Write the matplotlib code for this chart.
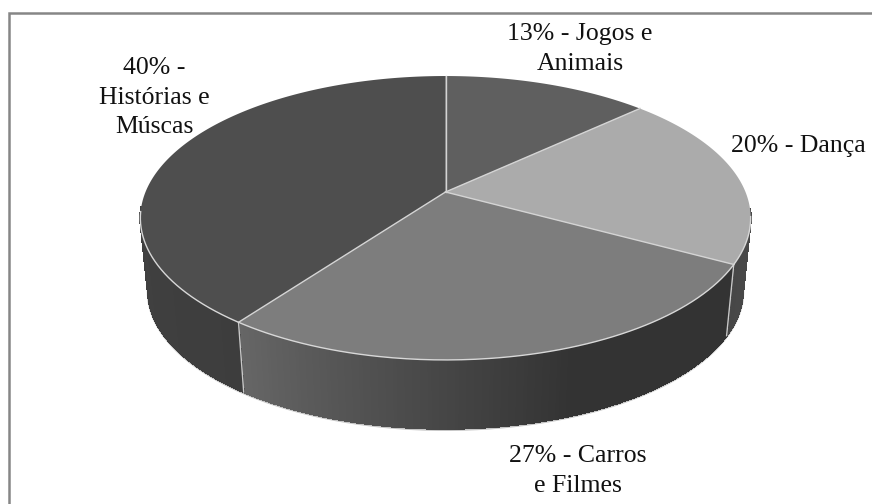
import numpy as np
import matplotlib
matplotlib.use("Agg")
import matplotlib.pyplot as plt
from matplotlib.collections import PolyCollection

plt.rcParams['font.family'] = ['Liberation Serif', 'DejaVu Serif']

# Share of each theme, clockwise from twelve o'clock
themes = ['Jogos e Animais', 'Dança', 'Carros e Filmes', 'Histórias e Músicas']
shares = [13, 20, 27, 40]
labels = ['13% - Jogos e\nAnimais', '20% - Dança', '27% - Carros\ne Filmes', '40% -\nHistórias e\nMúscas']
label_pos = [(580, 49), (798, 146), (578, 471), (154, 97.5)]

top_colors = ['#5f5f5f', '#ababab', '#7d7d7d', '#4e4e4e']
# wall shade at the start and the end of each slice, and where the fade begins
wall_shades = [(0.30, 0.30, 0.0), (0.29, 0.28, 0.0), (0.20, 0.40, 0.42), (0.24, 0.28, 0.0)]

# Perspective disc: centre, radii and tilt, in pixels
CX, CY = 445.5, 192
RX, RY = 300, 137.2
TILT = 0.183
DEPTH = 73
WALL_SCALE = 0.975


def project(t, scale=1.0, drop=0.0):
    u, v = np.sin(t), np.cos(t)
    w = 1 + TILT * v
    return np.column_stack([CX + scale * RX * u / w, CY + drop - scale * RY * v / w])


fig = plt.figure(figsize=(8.72, 5.04), dpi=100)
ax = fig.add_axes([0, 0, 1, 1])
ax.set_xlim(0, 872)
ax.set_ylim(504, 0)
ax.axis('off')

# Chart frame, only the top and left sides are in view
ax.plot([8.5, 8.5, 872], [504, 12.5, 12.5], color='#868686', lw=1.8, solid_joinstyle='miter')

edges = np.radians(np.cumsum([0] + shares) * 3.6)

# Side wall, built out of thin strips so the shade can change along the rim.
# Strips on the far side are hidden by the top face, so they are skipped.
quads, shades = [], []
for i in range(len(shares)):
    ts = np.linspace(edges[i], edges[i + 1], 160)
    top = project(ts)
    bottom = project(ts, WALL_SCALE, DEPTH)
    start, end, fade = wall_shades[i]
    for j in range(len(ts) - 1):
        if np.cos(ts[j]) > -0.12:
            continue
        quads.append([top[j], top[j + 1], bottom[j + 1], bottom[j]])
        f = max(0, (j / (len(ts) - 2) - fade) / (1 - fade))
        g = start * (1 - f) + end * f
        shades.append((g, g, g))

# Soft pale outline under the wall
ts = np.linspace(np.radians(100), np.radians(260), 300)
ax.plot(*project(ts, WALL_SCALE, DEPTH + 1).T, color='#c4c4c4', lw=1.8, zorder=1)
ax.add_collection(PolyCollection(quads, facecolors=shades, edgecolors=shades, linewidths=0.8,
                                 antialiaseds=False, zorder=2))

# Seams between the slices on the wall
for e in edges[1:4]:
    seam = np.vstack([project(np.array([e])), project(np.array([e]), WALL_SCALE, DEPTH)])
    ax.plot(seam[:, 0], seam[:, 1], color='#c8c8c8', lw=1, zorder=3)

# Top face
for i in range(len(shares)):
    ts = np.linspace(edges[i], edges[i + 1], 200)
    rim = project(ts)
    ax.fill(np.r_[CX, rim[:, 0]], np.r_[CY, rim[:, 1]], color=top_colors[i], lw=0, zorder=4)

# Pale slice borders and the front rim
for e in edges[:4]:
    p = project(np.array([e]))[0]
    ax.plot([CX, p[0]], [CY, p[1]], color='#d4d4d4', lw=1, zorder=5)
ts = np.linspace(np.radians(100), np.radians(262), 300)
ax.plot(*project(ts).T, color='#d8d8d8', lw=1, zorder=5)

for text, (x, y) in zip(labels, label_pos):
    ax.text(x, y, text, ha='center', va='center', fontsize=18.5, color='#111111',
            linespacing=1.45, zorder=6)

fig.savefig('out.png', dpi=100)
